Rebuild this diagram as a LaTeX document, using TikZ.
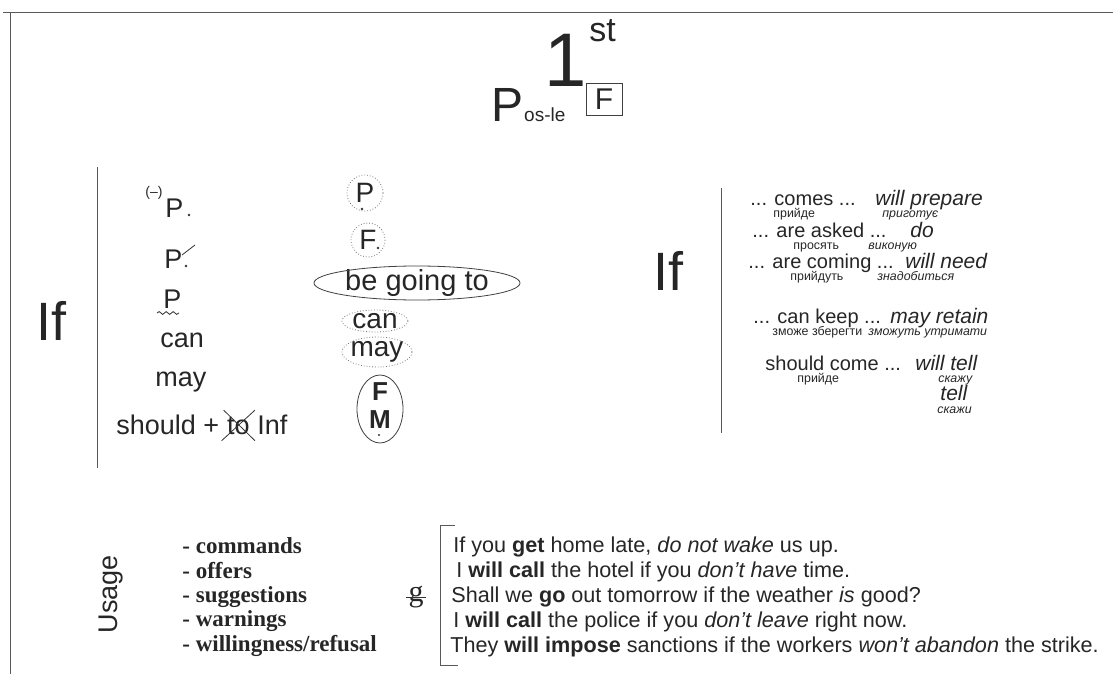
\documentclass[tikz,border=0pt]{standalone}
\usepackage{fontspec}
\setmainfont{Liberation Sans}
\newfontfamily\listfont{Liberation Serif}
\usetikzlibrary{calc,positioning,decorations.pathmorphing}
\newcommand{\sizeIf}{\fontsize{27}{30}\selectfont}
\newcommand{\sizeRow}{\fontsize{13.5}{16}\selectfont}
\newcommand{\sizeOval}{\fontsize{14}{17}\selectfont}
\newcommand{\sizeRight}{\fontsize{10}{12}\selectfont}
\newcommand{\sizeRightIt}{\fontsize{10.5}{12}\selectfont\itshape}
\newcommand{\sizeSub}{\fontsize{6.2}{7}\selectfont}
\newcommand{\sizeEx}{\fontsize{10.8}{13}\selectfont}
\newcommand{\sizeList}{\fontsize{11.5}{13}\selectfont}

\begin{document}
\begin{tikzpicture}[x=0.5pt,y=-0.5pt,
    txt/.style={inner sep=0pt,anchor=base west,text=black!85},
    mid/.style={inner sep=0pt,text=black!85},
    ring/.style={draw=black!55,densely dotted,thin},
    oval/.style={draw=black!75,thin},
    rule/.style={draw=black!65,thin}]
\useasboundingbox (0,0) rectangle (1113,674);
%frame
\coordinate (cTopLPt) at (3,12);
\coordinate (cTopRPt) at (1113,12);
\coordinate (cSideTPt) at (10,12);
\coordinate (cSideBPt) at (10,674);
\draw[rule] (cTopLPt) -- (cTopRPt);
\draw[rule] (cSideTPt) -- (cSideBPt);

%title
\node[txt,font=\fontsize{38}{42}\selectfont] (nOne) at (544,87) {1};
\node[txt,font=\fontsize{17}{19}\selectfont] (nSt) at (589,42) {st};
\node[txt,font=\fontsize{24}{28}\selectfont] (nPos) at (491,122) {P};
\node[txt,font=\fontsize{9.5}{11}\selectfont] (nPosSub) at (nPos.base east) {os-le};
\node[mid,draw=black!75,thin,minimum width=18pt,minimum height=16pt,
      font=\fontsize{15}{17}\selectfont] (nBoxF) at (604,99) {F};

%left block
\coordinate (cL1Pt) at (97,167);
\coordinate (cL2Pt) at (97,468);
\draw[rule] (cL1Pt) -- (cL2Pt);
\node[txt,font=\sizeIf] (nIfL) at (36,340) {If};

\node[txt,font=\fontsize{7}{8}\selectfont] (nNeg) at (145,196) {(--)};
\node[txt,font=\sizeRow] (nP1) at (165,217) {P};
\fill[black!80] (189,215) circle [radius=1.4];
\node[txt,font=\sizeRow] (nP2) at (164,268) {P};
\fill[black!80] (186,266) circle [radius=1.4];
\draw[black!80,thin] (182,255) -- (195,245);
\node[txt,font=\sizeRow] (nP3) at (163,308) {P};
\draw[black!80,thin,decorate,decoration={snake,amplitude=0.7pt,segment length=3.5pt}]
    (157,313) -- (179,313);
\node[txt,font=\sizeRow] (nCan) at (160,347) {can};
\node[txt,font=\sizeRow] (nMay) at (155,386) {may};
\node[txt,font=\sizeRow] (nShould) at (116,434) {should +};
\node[txt,font=\sizeRow] (nTo) at ([xshift=3.5pt]nShould.base east) {to};
\node[txt,font=\sizeRow] (nInf) at ([xshift=3.5pt]nTo.base east) {Inf};
\draw[black!80,thin] ([shift={(-5,6)}]nTo.south west) -- ([shift={(5,-6)}]nTo.north east);
\draw[black!80,thin] ([shift={(-3,-6)}]nTo.north west) -- ([shift={(5,6)}]nTo.south east);

%middle column
\node[mid,font=\sizeOval] (nCircP) at (365,193) {P};
\draw[ring] (nCircP) circle [radius=18];
\fill[black!80] (362,209) circle [radius=1.3];
\node[mid,font=\sizeOval] (nCircF) at (368,240) {F};
\draw[ring] (nCircF) circle [radius=17];
\fill[black!80] (378,248) circle [radius=1.3];
\node[mid,font=\fontsize{14.5}{17}\selectfont] (nGoing) at (417,283) {be going to};
\draw[oval] (nGoing) ellipse [x radius=103,y radius=17];
\node[mid,font=\sizeOval] (nOvCan) at (375,321) {can};
\draw[ring] (nOvCan) ellipse [x radius=33,y radius=11];
\node[mid,font=\sizeOval] (nOvMay) at (377,352) {may};
\draw[ring] (nOvMay) ellipse [x radius=35,y radius=15];
\coordinate (cFMPt) at (380,409);
\node[mid,font=\bfseries\fontsize{13}{15}\selectfont] (nFmF) at (380,392) {F};
\node[mid,font=\bfseries\fontsize{13}{15}\selectfont] (nFmM) at (380,420) {M};
\fill[black!80] (379,435) circle [radius=1.2];
\draw[oval] (cFMPt) ellipse [x radius=23,y radius=34];

%right block
\node[txt,font=\sizeIf] (nIfR) at (653,290) {If};
\coordinate (cR1Pt) at (721,188);
\coordinate (cR2Pt) at (721,433);
\draw[rule] (cR1Pt) -- (cR2Pt);
\foreach \y/\xa/\ta/\xb/\tb/\xc/\tc/\xd/\td in
{205/750/{... comes ...}/875/{will prepare}/773/{прийде}/882/{приготує},
 237/752/{... are asked ...}/910/{do}/793/{просять}/868/{виконую},
 268/748/{... are coming ...}/905/{will need}/790/{прийдуть}/877/{знадобиться},
 323/753/{... can keep ...}/890/{may retain}/772/{зможе зберегти}/868/{зможуть утримати},
 370/765/{should come ...}/915/{will tell}/797/{прийде}/938/{скажу}
}
{
    \node[txt,font=\sizeRight] (nA\y) at (\xa,\y) {\ta};
    \node[txt,font=\sizeRightIt] (nB\y) at (\xb,\y) {\tb};
    \node[txt,font=\sizeSub] (nC\y) at (\xc,\y+12) {\tc};
    \node[txt,font=\sizeSub\itshape] (nD\y) at (\xd,\y+12) {\td};
};
\node[txt,font=\sizeRightIt] (nTell) at (940,400) {tell};
\node[txt,font=\sizeSub\itshape] (nTellSub) at (937,413) {скажи};

%usage
\node[mid,rotate=90,font=\fontsize{13.5}{15}\selectfont] (nUsage) at (111,594) {Usage};
\foreach \y/\t in
{553/{- commands},
 578/{- offers},
 602/{- suggestions},
 626/{- warnings},
 651/{- willingness/refusal}
}
{
    \node[txt,font=\listfont\bfseries\sizeList] (nUse\y) at (182,\y) {\t};
};
\node[mid,font=\listfont\fontsize{15}{17}\selectfont] (nEg) at (416,597) {g};
\draw[black!80,thin] ([xshift=-1pt]nEg.west) -- ([xshift=1pt]nEg.east);

%examples
\coordinate (cBr1Pt) at (455,525);
\coordinate (cBr2Pt) at (440,525);
\coordinate (cBr3Pt) at (440,665);
\coordinate (cBr4Pt) at (458,665);
\draw[rule] (cBr1Pt) -- (cBr2Pt) -- (cBr3Pt) -- (cBr4Pt);
\foreach \y/\x/\t in
{552/453/{If you \textbf{get} home late, \textit{do not wake} us up.},
 577/456/{I \textbf{will call} the hotel if you \textit{don't have} time.},
 602/451/{Shall we \textbf{go} out tomorrow if the weather \textit{is} good?},
 627/453/{I \textbf{will call} the police if you \textit{don't leave} right now.},
 652/450/{They \textbf{will impose} sanctions if the workers \textit{won't abandon} the strike.}
}
{
    \node[txt,font=\sizeEx] (nEx\y) at (\x,\y) {\t};
};
\end{tikzpicture}
\end{document}
